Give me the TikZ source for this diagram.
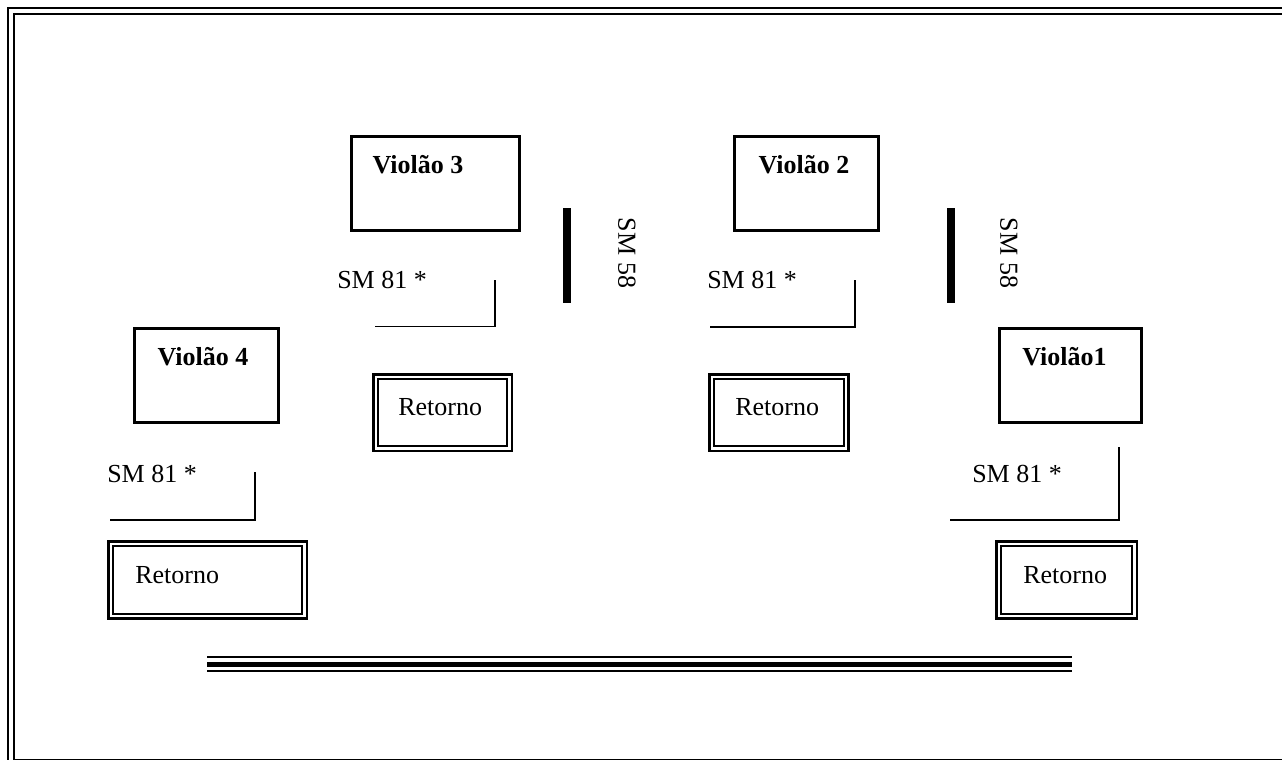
\documentclass[tikz,border=0pt]{standalone}
\usepackage{fontspec}
\setmainfont{Liberation Serif}
\usepackage{tikz}
\tikzset{
rectnodev1/.style={rectangle, draw=black!100,fill=none, line width=2.25pt, inner sep=0pt},
rectnodev2/.style={rectangle, draw=black!100,fill=none, double=white, line width=1.9pt, double distance=1.7pt, inner sep=0pt},
textnodev1/.style={inner sep=0pt, font=\fontsize{19.5}{23}\selectfont\bfseries},
textnodev2/.style={inner sep=0pt, font=\fontsize{19.5}{23}\selectfont},
micline/.style={black, line width=1.1pt},
}

\begin{document}
\begin{tikzpicture}[x=0.75pt,y=-0.75pt]
\useasboundingbox (0,0) rectangle (1282,760);
\clip (0,0) rectangle (1282,760);
\draw[black, double=white, line width=2pt, double distance=2.5pt] (11,11) rectangle (1300,763);
\node[rectnodev1, minimum width=126pt, minimum height=70.5pt] at (435.5,183.5) (v3) {};
\node[rectnodev1, minimum width=108pt, minimum height=70.5pt] at (806.5,183.5) (v2) {};
\node[rectnodev1, minimum width=108pt, minimum height=70.5pt] at (206.5,375.5) (v4) {};
\node[rectnodev1, minimum width=106.5pt, minimum height=70.5pt] at (1070.5,375.5) (v1) {};
\node[textnodev1, anchor=base] at (418,173) (v3t) {Violão 3};
\node[textnodev1, anchor=base] at (804,173) (v2t) {Violão 2};
\node[textnodev1, anchor=base] at (203,365) (v4t) {Violão 4};
\node[textnodev1, anchor=base] at (1064.5,365) (v1t) {Violão1};
\node[rectnodev2, minimum width=100.3pt, minimum height=53.8pt] at (442.5,412.5) (r3) {};
\node[rectnodev2, minimum width=101pt, minimum height=53.8pt] at (779,412.5) (r2) {};
\node[rectnodev2, minimum width=145.3pt, minimum height=54.5pt] at (207.5,580) (r4) {};
\node[rectnodev2, minimum width=101.8pt, minimum height=54.5pt] at (1066.5,580) (r1) {};
\node[textnodev2, anchor=base west] at (398,415) (r3t) {Retorno};
\node[textnodev2, anchor=base west] at (735,415) (r2t) {Retorno};
\node[textnodev2, anchor=base west] at (135,583) (r4t) {Retorno};
\node[textnodev2, anchor=base west] at (1023,583) (r1t) {Retorno};
\node[textnodev2, anchor=base west] at (337,288) (m3t) {SM 81 *};
\node[textnodev2, anchor=base west] at (707,288) (m2t) {SM 81 *};
\node[textnodev2, anchor=base west] at (107,482) (m4t) {SM 81 *};
\node[textnodev2, anchor=base west] at (972,482) (m1t) {SM 81 *};
\coordinate (m3a) at (375,326.5);
\coordinate (m3b) at (495,326.5);
\coordinate (m3c) at (495,280);
\coordinate (m2a) at (710,327);
\coordinate (m2b) at (855,327);
\coordinate (m2c) at (855,280);
\coordinate (m4a) at (110,520);
\coordinate (m4b) at (255,520);
\coordinate (m4c) at (255,472);
\coordinate (m1a) at (950,520);
\coordinate (m1b) at (1119,520);
\coordinate (m1c) at (1119,447);
\draw[micline] (m3a) -- (m3b) -- (m3c);
\draw[micline] (m2a) -- (m2b) -- (m2c);
\draw[micline] (m4a) -- (m4b) -- (m4c);
\draw[micline] (m1a) -- (m1b) -- (m1c);
\coordinate (b3a) at (567,208);
\coordinate (b3b) at (567,303);
\coordinate (b2a) at (951,208);
\coordinate (b2b) at (951,303);
\draw[black, line width=6pt] (b3a) to (b3b);
\draw[black, line width=6pt] (b2a) to (b2b);
\node[textnodev2, rotate=-90] at (627,253) (sm3) {SM 58};
\node[textnodev2, rotate=-90] at (1009,253) (sm2) {SM 58};
\coordinate (stL) at (207,664);
\coordinate (stR) at (1072,664);
\draw[black, line width=1.5pt] ([yshift=5.25pt]stL) to ([yshift=5.25pt]stR);
\draw[black, line width=3.75pt] (stL) to (stR);
\draw[black, line width=1.5pt] ([yshift=-5.25pt]stL) to ([yshift=-5.25pt]stR);
\end{tikzpicture}
\end{document}
